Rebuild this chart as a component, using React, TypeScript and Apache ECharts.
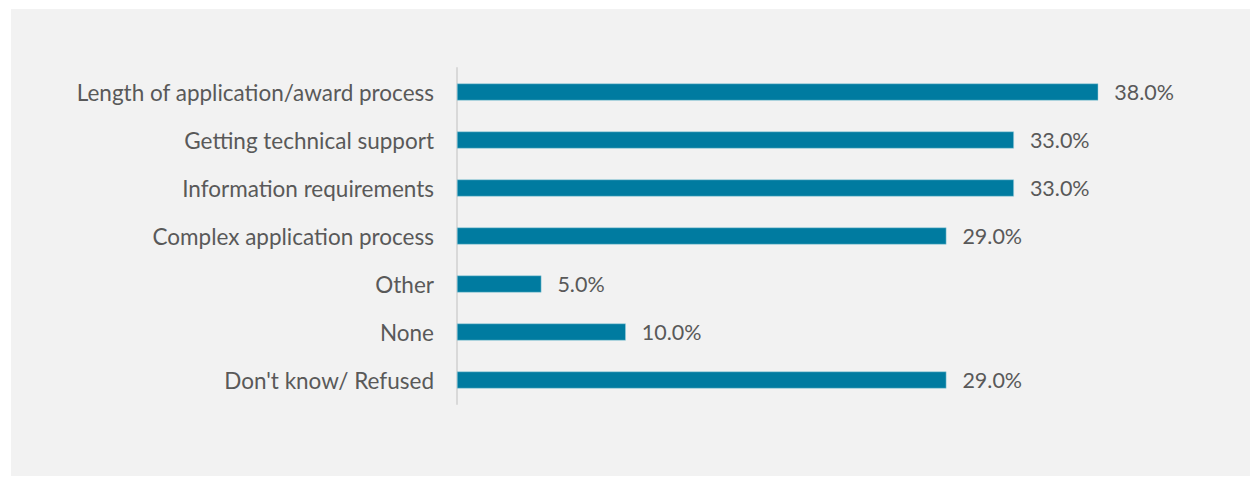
import React, { useEffect, useRef } from "react";
import * as echarts from "echarts";

const categories = [
  "Length of application/award process",
  "Getting technical support",
  "Information requirements",
  "Complex application process",
  "Other",
  "None",
  "Don't know/ Refused",
];
const values = [38.0, 33.0, 33.0, 29.0, 5.0, 10.0, 29.0];

export default function App() {
  const ref = useRef<HTMLDivElement>(null);
  useEffect(() => {
    if (!ref.current) return;
    const chart = echarts.init(ref.current, null, { renderer: "svg" });
    chart.setOption({
      animation: false,
      backgroundColor: "#f2f2f2",
      grid: { left: 446, top: 59, width: 675, height: 336, containLabel: false },
      xAxis: {
        type: "value",
        min: 0,
        max: 40,
        show: false,
      },
      yAxis: {
        type: "category",
        data: categories,
        inverse: true,
        axisLine: { show: true, lineStyle: { color: "#d9d9d9", width: 2 } },
        axisTick: { show: false },
        axisLabel: {
          color: "#595959",
          fontFamily: "Lato",
          fontSize: 22.5,
          margin: 23,
          padding: [0, 0, 2, 0],
        },
        splitLine: { show: false },
      },
      series: [
        {
          type: "bar",
          data: values,
          barWidth: 17,
          itemStyle: { color: "#007ba0", borderColor: "#9fd0de", borderWidth: 0.5 },
          label: {
            show: true,
            position: "right",
            distance: 16,
            color: "#595959",
            fontFamily: "Lato",
            fontSize: 21.5,
            formatter: (p: any) => p.value.toFixed(1) + "%",
          },
        },
      ],
    });
    return () => chart.dispose();
  }, []);
  return (
    <div style={{ position: "fixed", left: 0, top: 0, width: 1254, height: 477, background: "#ffffff" }}>
      <div ref={ref} style={{ position: "absolute", left: 11, top: 9, width: 1239, height: 467 }} />
    </div>
  );
}
